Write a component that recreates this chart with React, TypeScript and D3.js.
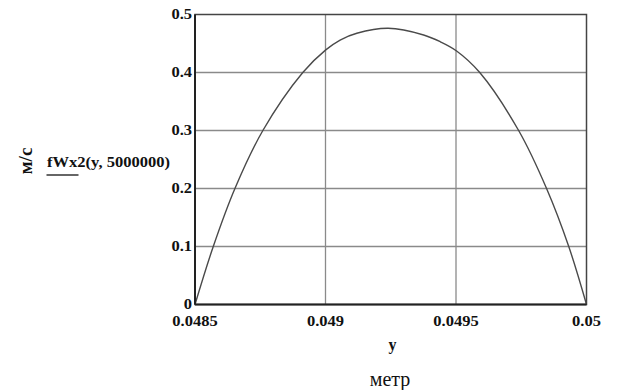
import React from "react";
import * as d3 from "d3";

const xTicks = [0.0485, 0.049, 0.0495, 0.05];
const xTickLabels = ["0.0485", "0.049", "0.0495", "0.05"];
const yTicks = [0, 0.1, 0.2, 0.3, 0.4, 0.5];
const yTickLabels = ["0", "0.1", "0.2", "0.3", "0.4", "0.5"];

const yPos = [
  0.0485, 0.04857, 0.048653, 0.04876, 0.048913, 0.049001, 0.049056,
  0.04912, 0.04924, 0.049376, 0.04944, 0.049501, 0.049591, 0.04974,
  0.049847, 0.049932, 0.05,
];
const vel = [
  0, 0.1, 0.2, 0.3, 0.4, 0.439, 0.456, 0.4676, 0.4762, 0.4647, 0.453,
  0.4376, 0.4, 0.3, 0.2, 0.1, 0,
];

const W = 618;
const H = 390;
const L = 195;
const R = 586.5;
const T = 14.5;
const B = 304.5;
const FONT = "'Liberation Serif', 'Times New Roman', Times, serif";

export default function App() {
  const x = d3.scaleLinear().domain([0.0485, 0.05]).range([L, R]);
  const y = d3.scaleLinear().domain([0, 0.5]).range([B, T]);
  const line = d3
    .line<number>()
    .x((_, i) => x(yPos[i]))
    .y((d) => y(d))
    .curve(d3.curveCatmullRom.alpha(0.5));
  const ts = { fontFamily: FONT };
  return (
    <svg
      width={W}
      height={H}
      style={{ position: "absolute", left: 0, top: 0, background: "#fff" }}
    >
      {yTicks.slice(1, -1).map((t) => (
        <line key={"gy" + t} x1={L} x2={R} y1={y(t)} y2={y(t)} stroke="#8a8a8a" strokeWidth={1.3} />
      ))}
      {xTicks.slice(1, -1).map((t) => (
        <line key={"gx" + t} x1={x(t)} x2={x(t)} y1={T} y2={B} stroke="#8a8a8a" strokeWidth={1.3} />
      ))}
      <path d={line(vel) || ""} fill="none" stroke="#4a4a4a" strokeWidth={1.4} />
      <rect x={L} y={T} width={R - L} height={B - T} fill="none" stroke="#444" strokeWidth={1.5} />
      <line x1={L} x2={L} y1={T} y2={B} stroke="#222" strokeWidth={2} />
      <line x1={L} x2={R} y1={B} y2={B} stroke="#222" strokeWidth={2} />
      {yTicks.map((t, i) => (
        <text
          key={"ty" + t}
          x={L - 3}
          y={y(t) + 5}
          textAnchor="end"
          fontSize={15}
          fontWeight="bold"
          fill="#111"
          style={ts}
          transform={`translate(${L - 3},0) scale(1.1,1) translate(${-(L - 3)},0)`}
        >
          {yTickLabels[i]}
        </text>
      ))}
      {xTicks.map((t, i) => (
        <text
          key={"tx" + t}
          x={x(t)}
          y={326}
          textAnchor="middle"
          fontSize={15}
          fontWeight="bold"
          fill="#111"
          style={ts}
          transform={`translate(${x(t)},0) scale(1.1,1) translate(${-x(t)},0)`}
        >
          {xTickLabels[i]}
        </text>
      ))}
      <text x={392.5} y={350} textAnchor="middle" fontSize={16} fontWeight="bold" fill="#111" style={ts}>
        y
      </text>
      <text x={390} y={386} textAnchor="middle" fontSize={20} fill="#111" style={ts}>
        метр
      </text>
      <text
        x={0}
        y={0}
        textAnchor="middle"
        fontSize={19}
        fontWeight="bold"
        fill="#111"
        style={ts}
        transform="translate(32,161) rotate(-90)"
      >
        м/с
      </text>
      <text x={47} y={167} fontSize={15} fontWeight="bold" fill="#111" style={ts} textLength={123} lengthAdjust="spacingAndGlyphs">
        fWx2(y, 5000000)
      </text>
      <line x1={46.5} x2={78.5} y1={175} y2={175} stroke="#333" strokeWidth={1.3} />
    </svg>
  );
}
